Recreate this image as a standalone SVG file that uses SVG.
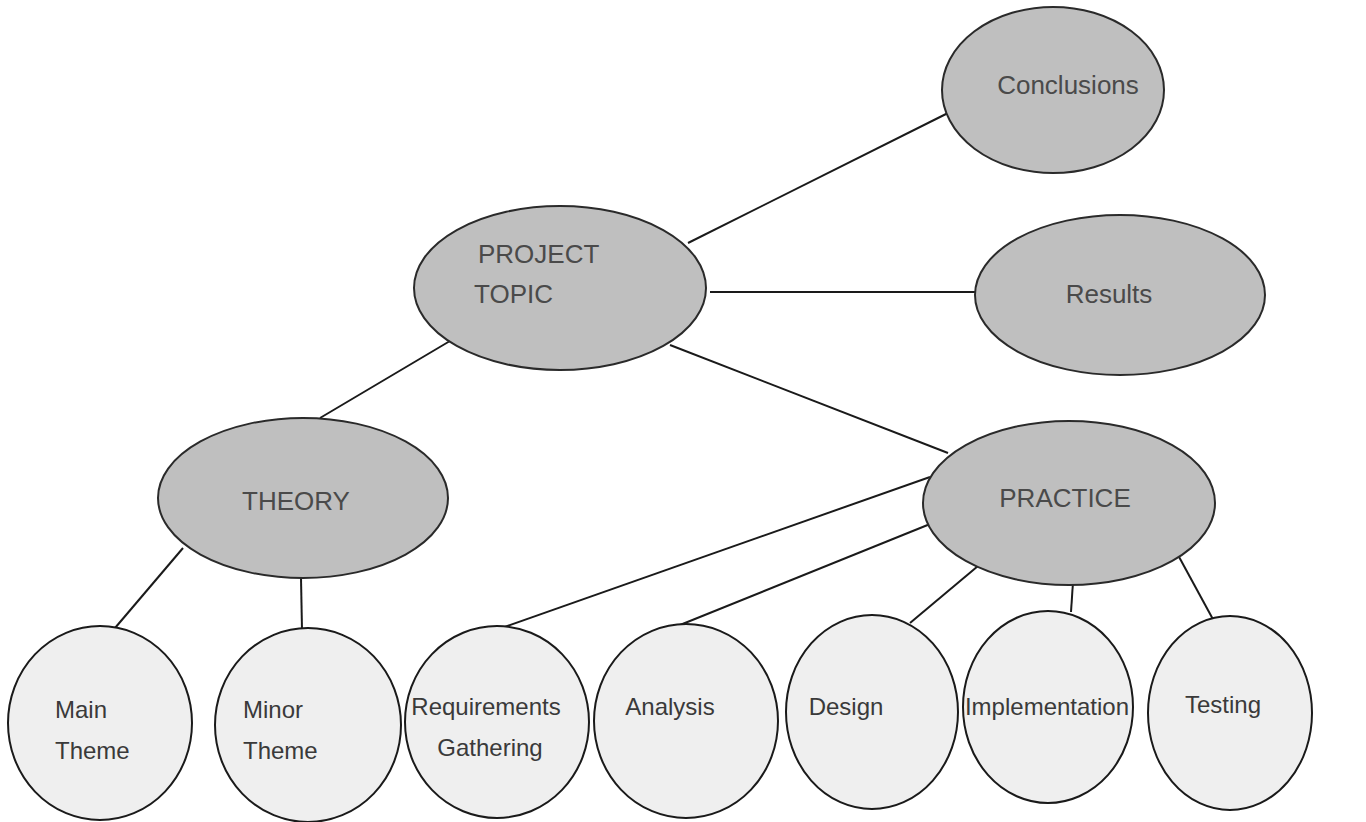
<svg xmlns="http://www.w3.org/2000/svg" width="1366" height="822" viewBox="0 0 1366 822">
<style>
.big{fill:#bfbfbf;stroke:#2a2a2a;stroke-width:2}
.small{fill:#efefef;stroke:#1a1a1a;stroke-width:2}
.lbl{font-family:"Liberation Sans",Arial,sans-serif;font-size:24px;fill:#3a3a3a}
.big-t{fill:#4a4a4a;font-size:26px}
#connectors line{stroke:#1a1a1a;stroke-width:2}
</style>
<rect width="1366" height="822" fill="#ffffff"/>
<g id="connectors">
<line x1="688" y1="243" x2="948" y2="113"/>
<line x1="710" y1="292" x2="977" y2="292"/>
<line x1="670" y1="345" x2="948" y2="453"/>
<line x1="455" y1="338" x2="320" y2="418"/>
<line x1="183" y1="548" x2="115" y2="628"/>
<line x1="301" y1="578" x2="302" y2="630"/>
<line x1="930" y1="477" x2="493" y2="631"/>
<line x1="940" y1="520" x2="680" y2="625"/>
<line x1="978" y1="566" x2="910" y2="623"/>
<line x1="1073" y1="582" x2="1071" y2="612"/>
<line x1="1178" y1="555" x2="1215" y2="623"/>
</g>
<g id="project-topic">
<ellipse class="big" cx="560" cy="288" rx="146" ry="82"/>
<text class="lbl big-t" x="478" y="263">PROJECT</text>
<text class="lbl big-t" x="474" y="303">TOPIC</text>
</g>
<g id="conclusions">
<ellipse class="big" cx="1053" cy="90" rx="111" ry="83"/>
<text class="lbl big-t" x="1068" y="94" text-anchor="middle">Conclusions</text>
</g>
<g id="results">
<ellipse class="big" cx="1120" cy="295" rx="145" ry="80"/>
<text class="lbl big-t" x="1109" y="303" text-anchor="middle">Results</text>
</g>
<g id="theory">
<ellipse class="big" cx="303" cy="498" rx="145" ry="80"/>
<text class="lbl big-t" x="296" y="510" text-anchor="middle">THEORY</text>
</g>
<g id="practice">
<ellipse class="big" cx="1069" cy="503" rx="146" ry="82"/>
<text class="lbl big-t" x="1065" y="507" text-anchor="middle">PRACTICE</text>
</g>
<g id="main-theme">
<ellipse class="small" cx="100" cy="723" rx="92" ry="97"/>
<text class="lbl" x="55" y="718">Main</text>
<text class="lbl" x="55" y="759">Theme</text>
</g>
<g id="minor-theme">
<ellipse class="small" cx="308" cy="725" rx="93" ry="97"/>
<text class="lbl" x="243" y="718">Minor</text>
<text class="lbl" x="243" y="759">Theme</text>
</g>
<g id="requirements-gathering">
<ellipse class="small" cx="497" cy="722" rx="92" ry="96"/>
<text class="lbl" x="486" y="715" text-anchor="middle">Requirements</text>
<text class="lbl" x="490" y="756" text-anchor="middle">Gathering</text>
</g>
<g id="analysis">
<ellipse class="small" cx="686" cy="721" rx="92" ry="97"/>
<text class="lbl" x="670" y="715" text-anchor="middle">Analysis</text>
</g>
<g id="design">
<ellipse class="small" cx="872" cy="712" rx="86" ry="97"/>
<text class="lbl" x="846" y="715" text-anchor="middle">Design</text>
</g>
<g id="implementation">
<ellipse class="small" cx="1048" cy="707" rx="85" ry="96"/>
<text class="lbl" x="1047" y="715" text-anchor="middle">Implementation</text>
</g>
<g id="testing">
<ellipse class="small" cx="1230" cy="713" rx="82" ry="97"/>
<text class="lbl" x="1223" y="713" text-anchor="middle">Testing</text>
</g>
</svg>
